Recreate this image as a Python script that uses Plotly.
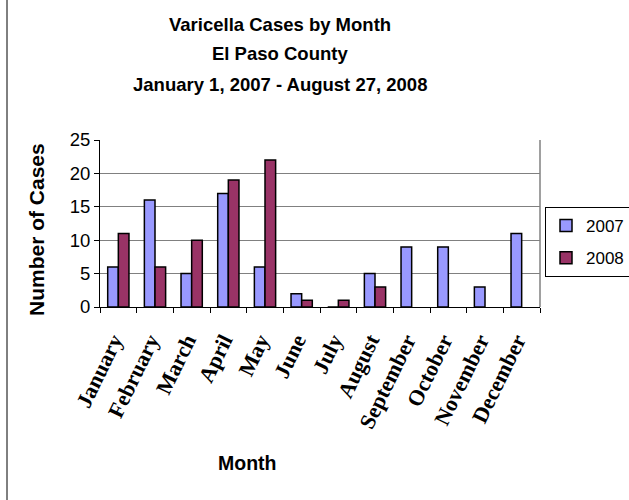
import plotly.graph_objects as go

months = ["January", "February", "March", "April", "May", "June", "July",
          "August", "September", "October", "November", "December"]
cases_2007 = [6, 16, 5, 17, 6, 2, 0, 5, 9, 9, 3, 11]
cases_2008 = [11, 6, 10, 19, 22, 1, 1, 3, None, None, None, None]
y_ticks = [0, 5, 10, 15, 20, 25]

W, H = 629, 500
L, R, T, B = 100, 89, 140, 193
PW, PH = W - L - R, H - T - B

def px_x(x):
    return (x - L) / PW

def px_y(y):
    return (H - B - y) / PH

fig = go.Figure()
fig.add_trace(go.Bar(x=months, y=cases_2007, name="2007", legendgroup="a",
                     marker=dict(color="#9999FF", line=dict(color="black", width=1.5))))
fig.add_trace(go.Bar(x=months, y=cases_2008, name="2008", legendgroup="b",
                     marker=dict(color="#993366", line=dict(color="black", width=1.5))))

titles = ["Varicella Cases by Month", "El Paso County", "January 1, 2007 - August 27, 2008"]
ann = []
for i, t in enumerate(titles):
    ann.append(dict(text="<b>%s</b>" % t, x=px_x(280), y=px_y(24 + 30 * i), xref="paper", yref="paper",
                    showarrow=False, xanchor="center", yanchor="middle",
                    font=dict(family="Liberation Sans", size=18.5, color="black")))
ann.append(dict(text="<b>Month</b>", x=px_x(247), y=px_y(463), xref="paper", yref="paper",
                showarrow=False, xanchor="center", yanchor="middle",
                font=dict(family="Liberation Sans", size=19.5, color="black")))
ann.append(dict(text="<b>Number of Cases</b>", x=px_x(36), y=px_y(230), xref="paper", yref="paper",
                showarrow=False, xanchor="center", yanchor="middle", textangle=-90,
                font=dict(family="Liberation Sans", size=21, color="black")))

shapes = [
    dict(type="line", xref="paper", yref="paper", x0=1, x1=1, y0=0, y1=1,
         line=dict(color="#808080", width=1.5)),
    dict(type="line", xref="paper", yref="paper", x0=px_x(7), x1=px_x(7), y0=px_y(0), y1=px_y(500),
         line=dict(color="black", width=1)),
]

fig.update_layout(
    width=W, height=H,
    margin=dict(l=L, r=R, t=T, b=B, autoexpand=False),
    paper_bgcolor="white", plot_bgcolor="white",
    barmode="group", bargap=0.42, bargroupgap=0,
    annotations=ann, shapes=shapes,
    legend=dict(x=px_x(545), y=px_y(207), xanchor="left", yanchor="top",
                bordercolor="black", borderwidth=1, tracegroupgap=7, itemwidth=30,
                font=dict(family="Liberation Sans", size=17, color="black")),
    xaxis=dict(showline=True, linecolor="black", linewidth=1, ticks="outside", ticklen=5,
               tickcolor="black", tickson="boundaries", tickangle=-64,
               ticklabelstandoff=11, ticklabelshift=-5,
               tickfont=dict(family="Liberation Serif", size=22, color="black"),
               showgrid=False, automargin=False),
    yaxis=dict(range=[0, 25], tickvals=y_ticks, showline=True, linecolor="black", linewidth=1,
               ticks="outside", ticklen=5, tickcolor="black",
               showgrid=True, gridcolor="#808080", gridwidth=1, zeroline=False,
               tickfont=dict(family="Liberation Sans", size=18.5, color="black"), automargin=False),
    font=dict(family="Liberation Sans", color="black"),
)
fig.update_xaxes(tickprefix="<b>", ticksuffix="</b>")
fig.write_html("out.html", config={"displayModeBar": False},
               post_script="document.body.style.margin='0';document.body.style.overflow='hidden';")
